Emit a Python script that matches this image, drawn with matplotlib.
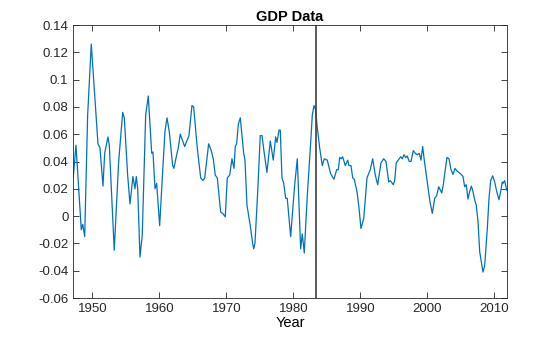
import matplotlib
matplotlib.use("Agg")
import matplotlib.pyplot as plt

# values (year, growth rate)
years = [1947.17, 1947.57, 1948.36, 1948.57, 1948.87, 1949.31, 1949.85, 1950.36, 1950.85, 1951.15,
         1951.60, 1951.85, 1952.34, 1952.54, 1953.28, 1953.94, 1954.54, 1954.78, 1955.28, 1955.63,
         1956.07, 1956.37, 1956.57, 1956.78, 1957.12, 1957.46, 1957.97, 1958.36, 1958.87, 1959.06,
         1959.36, 1959.61, 1960.06, 1960.45, 1960.85, 1961.15, 1961.49, 1962.00, 1962.19, 1962.60,
         1962.84, 1963.13, 1963.79, 1964.43, 1964.88, 1965.13, 1965.67, 1966.18, 1966.52, 1966.78,
         1967.37, 1967.76, 1968.06, 1968.36, 1968.66, 1969.16, 1969.46, 1969.85, 1970.15, 1970.51,
         1970.85, 1971.15, 1971.34, 1971.55, 1971.79, 1972.09, 1972.60, 1972.79, 1973.09, 1973.58,
         1973.94, 1974.09, 1974.28, 1974.69, 1975.07, 1975.33, 1975.67, 1976.07, 1976.57, 1977.01,
         1977.37, 1977.57, 1977.87, 1978.06, 1978.31, 1978.57, 1978.87, 1979.10, 1979.61, 1980.21,
         1980.60, 1981.10, 1981.34, 1981.64, 1982.09, 1982.60, 1982.84, 1983.09, 1983.34, 1983.58,
         1983.94, 1984.33, 1984.63, 1985.07, 1985.58, 1986.07, 1986.48, 1986.72, 1986.93, 1987.17,
         1987.37, 1987.76, 1988.12, 1988.31, 1988.61, 1988.87, 1989.10, 1989.51, 1989.81, 1990.10,
         1990.51, 1991.00, 1991.49, 1991.85, 1992.24, 1992.60, 1993.09, 1993.49, 1993.84, 1994.24,
         1994.48, 1994.93, 1995.13, 1995.37, 1995.67, 1996.03, 1996.27, 1996.52, 1996.78, 1997.01,
         1997.31, 1997.57, 1997.91, 1998.21, 1998.51, 1998.81, 1999.06, 1999.31, 1999.55, 1999.91,
         2000.15, 2000.40, 2000.75, 2001.10, 2001.40, 2001.70, 2002.15, 2002.39, 2002.60, 2002.94,
         2003.24, 2003.54, 2003.84, 2004.13, 2004.43, 2004.73, 2005.07, 2005.33, 2005.58, 2005.82,
         2006.07, 2006.33, 2006.57, 2006.82, 2007.07, 2007.31, 2007.57, 2007.82, 2008.31, 2008.57,
         2008.96, 2009.21, 2009.46, 2009.76, 2010.06, 2010.36, 2010.70, 2010.96, 2011.19, 2011.30,
         2011.55, 2011.85]
gdp = [0.029, 0.052, -0.010, -0.006, -0.015, 0.074, 0.126, 0.089, 0.053, 0.050,
       0.022, 0.046, 0.058, 0.052, -0.025, 0.040, 0.076, 0.072, 0.030, 0.009,
       0.029, 0.020, 0.029, 0.020, -0.030, -0.014, 0.074, 0.088, 0.046, 0.047,
       0.020, 0.024, -0.007, 0.028, 0.062, 0.072, 0.062, 0.037, 0.035, 0.045,
       0.050, 0.060, 0.051, 0.059, 0.081, 0.080, 0.050, 0.028, 0.026, 0.028,
       0.053, 0.048, 0.042, 0.030, 0.028, 0.003, 0.002, -0.0005, 0.028, 0.030,
       0.042, 0.035, 0.051, 0.053, 0.067, 0.072, 0.046, 0.041, 0.008, -0.007,
       -0.020, -0.024, -0.020, 0.018, 0.059, 0.059, 0.046, 0.032, 0.055, 0.041,
       0.058, 0.054, 0.063, 0.063, 0.028, 0.024, 0.013, 0.013, -0.015, 0.023,
       0.042, -0.024, -0.013, -0.027, 0.015, 0.054, 0.074, 0.081, 0.078, 0.065,
       0.050, 0.037, 0.042, 0.041, 0.031, 0.027, 0.034, 0.034, 0.043, 0.042,
       0.0435, 0.037, 0.041, 0.037, 0.037, 0.028, 0.027, 0.018, 0.006, -0.009,
       -0.002, 0.028, 0.034, 0.042, 0.030, 0.023, 0.039, 0.042, 0.040, 0.025,
       0.026, 0.023, 0.026, 0.039, 0.041, 0.0435, 0.042, 0.045, 0.043, 0.044,
       0.040, 0.040, 0.048, 0.046, 0.045, 0.046, 0.041, 0.051, 0.041, 0.028,
       0.019, 0.0105, 0.002, 0.013, 0.015, 0.0215, 0.017, 0.023, 0.031, 0.043,
       0.042, 0.034, 0.0305, 0.035, 0.033, 0.032, 0.0305, 0.029, 0.0215, 0.023,
       0.0125, 0.018, 0.022, 0.018, 0.012, 0.008, -0.004, -0.026, -0.041, -0.036,
       -0.009, 0.013, 0.026, 0.0295, 0.025, 0.018, 0.012, 0.018, 0.025, 0.024,
       0.026, 0.019]

break_year = 1983.35
xticks = [1950, 1960, 1970, 1980, 1990, 2000, 2010]
yticks = [-0.06, -0.04, -0.02, 0, 0.02, 0.04, 0.06, 0.08, 0.1, 0.12, 0.14]
ytick_labels = ['-0.06', '-0.04', '-0.02', '0', '0.02', '0.04', '0.06', '0.08', '0.1', '0.12', '0.14']

plt.rcParams['font.family'] = ['Liberation Sans', 'DejaVu Sans']

fig = plt.figure(figsize=(5.6, 3.37), dpi=100)
ax = fig.add_axes([0.1309, 0.1157, 0.7739, 0.8101])

ax.plot(years, gdp, color='#0072BD', lw=0.9)
ax.axvline(break_year, color='#404040', lw=1.2)

ax.set_xlim(1947.17, 2011.85)
ax.set_ylim(-0.06, 0.14)
ax.set_xticks(xticks)
ax.set_yticks(yticks)
ax.set_yticklabels(ytick_labels)
ax.tick_params(direction='in', length=4, width=0.6, labelsize=9.5,
               top=True, right=True, colors='#262626')
for s in ax.spines.values():
    s.set_linewidth(0.6)
    s.set_color('#262626')

ax.set_title('GDP Data', fontsize=10.5, fontweight='bold', pad=3)
ax.set_xlabel('Year', fontsize=10.5, labelpad=1)

fig.savefig('out.png', dpi=100)
